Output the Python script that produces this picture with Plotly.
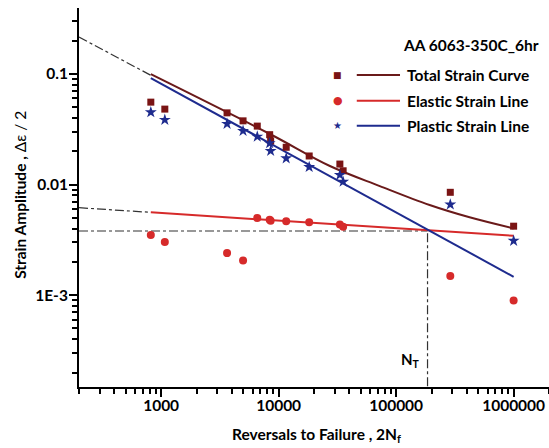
import plotly.graph_objects as go

# ---- data ----
reversals = [817, 1075, 3640, 4980, 6580, 8390, 8550, 11600, 18200, 33200, 35400, 289000, 1000000]
total_strain = [0.0555, 0.048, 0.0444, 0.0376, 0.0337, 0.0282, 0.0248, 0.0217, 0.0181, 0.0153, 0.0133, 0.0085, 0.0042]
plastic_strain = [0.045, 0.0384, 0.0353, 0.0305, 0.0271, 0.0236, 0.0201, 0.01725, 0.0144, 0.0122, 0.0106, 0.0066, 0.0031]
elastic_strain = [0.00349, 0.00302, 0.0024, 0.00206, 0.00498, 0.00481, 0.0047, 0.00465, 0.00455, 0.00436, 0.00415, 0.00149, 0.000896]

# fitted lines (end points)
elastic_fit_x = [817, 1000000]
elastic_fit_y = [0.0056, 0.00344]
plastic_fit_x = [817, 1000000]
plastic_fit_y = [0.0914, 0.001466]
total_fit_x = [817, 8430, 27300, 72600, 192800, 421700, 1000000]
total_fit_y = [0.0993, 0.0286, 0.01469, 0.00968, 0.00652, 0.00505, 0.00401]

# dash-dot extrapolations
plastic_ext_x = [200, 817]
plastic_ext_y = [0.215, 0.097]
elastic_ext_x = [200, 817]
elastic_ext_y = [0.00617, 0.0056]
nt_value = 185000
nt_strain = 0.0038
y_bottom = 1.5e-4

y_label_alias = {"0.001": "1E-3"}

X_RANGE = [2.301, 6.301]
Y_RANGE = [-3.83, -0.405]

c_total_m = "#7a1414"
c_total_l = "#6a1a1a"
c_el = "#d62a2a"
c_pl = "#1e2b8e"
dd = "#333333"

fig = go.Figure()

# extensions
for xs, ys in [(plastic_ext_x, plastic_ext_y), (elastic_ext_x, elastic_ext_y),
               ([elastic_ext_x[0], nt_value], [nt_strain, nt_strain]),
               ([nt_value, nt_value], [y_bottom, nt_strain])]:
    fig.add_trace(go.Scatter(x=xs, y=ys, mode="lines",
                             line=dict(color=dd, width=1.2, dash="dashdot"), showlegend=False))

# fit lines
fig.add_trace(go.Scatter(x=elastic_fit_x, y=elastic_fit_y, mode="lines",
                         line=dict(color=c_el, width=2), showlegend=False))
fig.add_trace(go.Scatter(x=plastic_fit_x, y=plastic_fit_y, mode="lines",
                         line=dict(color=c_pl, width=2), showlegend=False))
fig.add_trace(go.Scatter(x=total_fit_x, y=total_fit_y, mode="lines", line_shape="spline",
                         line=dict(color=c_total_l, width=2), showlegend=False))

# data points
fig.add_trace(go.Scatter(x=reversals, y=total_strain, mode="markers",
                         marker=dict(symbol="square", size=7, color=c_total_m), showlegend=False))
fig.add_trace(go.Scatter(x=reversals, y=elastic_strain, mode="markers",
                         marker=dict(symbol="circle", size=8, color=c_el), showlegend=False))
fig.add_trace(go.Scatter(x=reversals, y=plastic_strain, mode="markers",
                         marker=dict(symbol="star", size=9, color=c_pl), showlegend=False))

FAM = "Lato"
FS = 15.5
font_b = dict(family=FAM, size=FS, color="black")

# custom legend (paper coordinates)
fig.add_annotation(xref="paper", yref="paper", x=0.686, y=0.902, xanchor="left", yanchor="middle",
                   text="<b>AA 6063-350C_6hr</b>", showarrow=False, font=font_b)
rows = [("Total Strain Curve", "■", c_total_m, c_total_l, 0.823, 9),
        ("Elastic Strain Line", "●", c_el, c_el, 0.755, 11),
        ("Plastic Strain Line", "★", c_pl, c_pl, 0.689, 10)]
for label, glyph, mc, lc, yy, gs in rows:
    fig.add_annotation(xref="paper", yref="paper", x=0.55, y=yy, xanchor="center", yanchor="middle",
                       text=glyph, showarrow=False, font=dict(family="DejaVu Sans", size=gs, color=mc))
    fig.add_shape(type="line", xref="paper", yref="paper", x0=0.591, x1=0.683, y0=yy, y1=yy,
                  line=dict(color=lc, width=2))
    fig.add_annotation(xref="paper", yref="paper", x=0.693, y=yy, xanchor="left", yanchor="middle",
                       text="<b>" + label + "</b>", showarrow=False, font=font_b)

fig.add_annotation(xref="paper", yref="paper", x=0.730, y=0.071, xanchor="right", yanchor="middle",
                   text="<b>N<sub>T</sub></b>", showarrow=False, font=dict(family=FAM, size=15, color="black"))

# axis titles
fig.add_annotation(xref="paper", yref="paper", x=0.506, y=-0.127, xanchor="center", yanchor="middle",
                   text="<b>Reversals to Failure , 2N<sub>f</sub></b>", showarrow=False, font=font_b)
fig.add_annotation(xref="paper", yref="paper", x=-0.1255, y=0.507, xanchor="center", yanchor="middle",
                   textangle=-90, text="<b>Strain Amplitude ,</b> Δε / 2", showarrow=False, font=font_b)

tickfont = dict(family=FAM, size=FS, color="black", weight="bold")
minor = dict(ticks="outside", ticklen=5, tickwidth=1.5, tickcolor="black", dtick="D1", showgrid=False)
fig.update_layout(
    xaxis=dict(type="log", range=X_RANGE, tickmode="linear", tick0=0, dtick=1, tickformat="d",
               ticks="outside", ticklen=8, tickwidth=2, tickcolor="black", automargin=False,
               ticklabelstandoff=-5,
               showline=True, linewidth=2, linecolor="black", showgrid=False, zeroline=False,
               tickfont=tickfont, minor=minor),
    yaxis=dict(type="log", range=Y_RANGE, tickmode="linear", tick0=0, dtick=1, exponentformat="none",
               labelalias=y_label_alias, ticklabelstandoff=-2,
               ticks="outside", ticklen=8, tickwidth=2, tickcolor="black", automargin=False,
               showline=True, linewidth=2, linecolor="black", showgrid=False, zeroline=False,
               tickfont=tickfont, minor=minor),
    width=549, height=448, margin=dict(l=79, r=0, t=8, b=61),
    plot_bgcolor="white", paper_bgcolor="white", showlegend=False)

fig.write_html("out.html", config={"displayModeBar": False},
               post_script="document.body.style.margin='0';")
